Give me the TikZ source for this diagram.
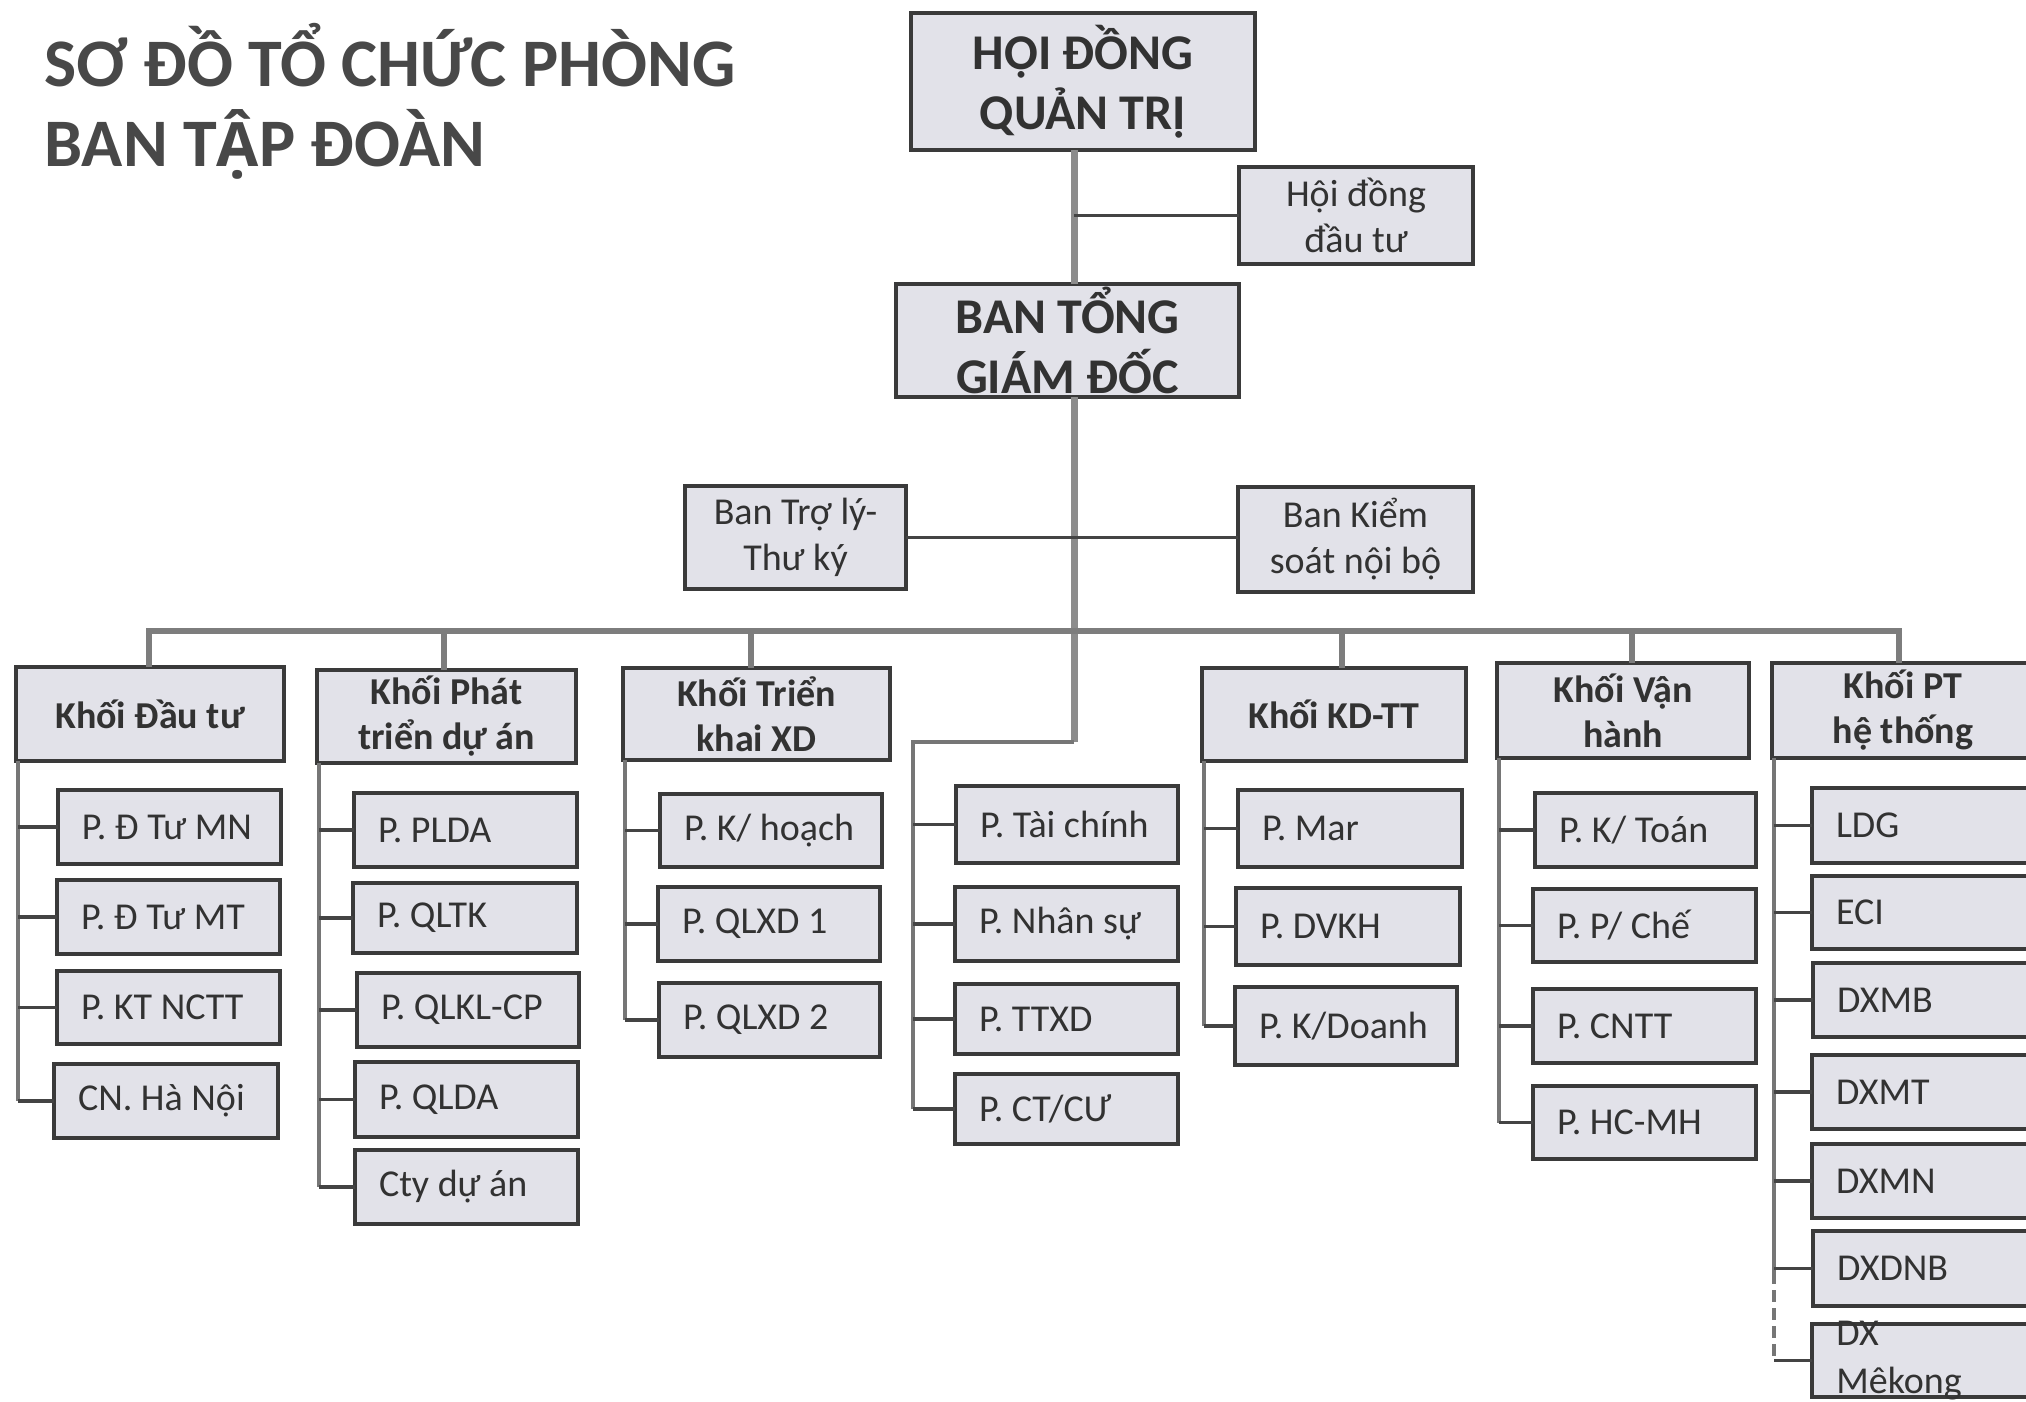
\documentclass[tikz,border=0pt]{standalone}
\usepackage{fontspec}
\setmainfont{Carlito}
\newfontfamily\altfont[Scale=0.9]{Open Sans}
\definecolor{boxfill}{RGB}{226,226,233}
\definecolor{boxline}{RGB}{58,58,58}
\definecolor{trunkc}{RGB}{140,140,140}
\definecolor{busc}{RGB}{125,125,125}
\definecolor{vlinec}{RGB}{118,118,118}
\definecolor{stubc}{RGB}{68,68,68}
\definecolor{txtc}{RGB}{50,50,50}
\definecolor{titlec}{RGB}{72,72,72}
\newcommand\bx[7]{% style,name,x1,y1,x2,y2,text
  \pgfmathsetmacro\bxw{(#5-#3)*0.5}%
  \pgfmathsetmacro\bxh{(#6-#4)*0.5}%
  \node[#1, minimum width=\bxw pt, minimum height=\bxh pt] (#2) at ({(#3+#5)/2},{(#4+#6)/2}) {#7};}
\newcommand\cx[6]{% name,x1,y1,x2,y2,text
  \pgfmathsetmacro\bxw{(#4-#2)*0.5-24}%
  \pgfmathsetmacro\bxh{(#5-#3)*0.5}%
  \node[cbox, minimum height=\bxh pt] (#1) at ({(#2+#4)/2},{(#3+#5)/2}) {\makebox[\bxw pt][l]{#6}};}
\begin{document}
\begin{tikzpicture}[x=0.5pt,y=-0.5pt,
  box/.style={draw=boxline, line width=2pt, fill=boxfill, inner sep=0pt, outer sep=0pt,
    text=txtc, font=\fontsize{19pt}{23pt}\selectfont, align=center},
  topbox/.style={box, font=\bfseries\fontsize{25pt}{30pt}\selectfont},
  hdrbox/.style={box, font=\bfseries\fontsize{19pt}{22.5pt}\selectfont},
  cbox/.style={draw=boxline, line width=2pt, fill=boxfill, inner ysep=0pt, inner xsep=12pt,
    outer sep=0pt, text=txtc, font=\fontsize{19pt}{23pt}\selectfont},
  trunkline/.style={draw=trunkc, line width=3.5pt},
  busline/.style={draw=busc, line width=2.6pt},
  vline/.style={draw=vlinec, line width=2pt},
  stubline/.style={draw=stubc, line width=1.8pt},
  titlefont/.style={font=\bfseries\fontsize{34pt}{40pt}\selectfont, text=titlec, inner sep=0pt, anchor=base west},
]
\useasboundingbox (0,0) rectangle (2026,1402);
\clip (0,0) rectangle (2026,1402);
\fill[white] (0,0) rectangle (2026,1402);

% title
\node[titlefont] (t1) at (44,87) {SƠ ĐỒ TỔ CHỨC PHÒNG};
\node[titlefont] (t2) at (44,167) {BAN T{\altfont Ậ}P ĐOÀN};

% coordinates for connectors
\coordinate (tx) at (1074,0);
\coordinate (tk) at (1074,742);
\coordinate (fk) at (913,742);
\coordinate (busL) at (149,631);
\coordinate (busR) at (1899,631);
\coordinate (dk2) at (444,631);
\coordinate (dk3) at (751,631);
\coordinate (dk5) at (1342,631);
\coordinate (dk6) at (1632,631);
\coordinate (v1) at (18,0);
\coordinate (v2) at (319,0);
\coordinate (v3) at (625,0);
\coordinate (v5) at (1204,0);
\coordinate (v6) at (1499,0);
\coordinate (v7) at (1774,0);
\coordinate (v7d) at (1774,1272);

% top boxes
\bx{topbox}{hdqt}{911}{13}{1255}{150}{HỘI ĐỒNG\\QUẢN TRỊ}
\bx{box}{hddt}{1239}{167}{1473}{264}{Hội đồng\\đầu tư}
\bx{topbox}{btgd}{896}{284}{1239}{397}{BAN TỔNG\\GIÁM ĐỐC}
\bx{box}{btl}{685}{486}{906}{589}{Ban Trợ lý-\\Thư ký}
\bx{box}{bks}{1238}{487}{1473}{592}{Ban Kiểm\\soát nội bộ}

% headers
\bx{hdrbox}{k1}{16}{667}{284}{761}{Khối Đầu tư}
\bx{hdrbox}{k2}{317}{670}{576}{763}{Khối Phát\\triển dự án}
\bx{hdrbox}{k3}{623}{668}{890}{760}{Khối Triển\\khai XD}
\bx{hdrbox}{k5}{1202}{668}{1466}{761}{Khối KD-TT}
\bx{hdrbox}{k6}{1497}{663}{1749}{758}{Khối Vận\\hành}
\bx{hdrbox}{k7}{1772}{663}{2034}{758}{Khối PT\\hệ thống}

% children
\cx{a1}{58}{790}{281}{864}{P. Đ Tư MN}
\cx{a2}{57}{880}{280}{954}{P. Đ Tư MT}
\cx{a3}{57}{971}{280}{1044}{P. KT NCTT}
\cx{a4}{54}{1064}{278}{1138}{CN. Hà Nội}

\cx{b1}{354}{793}{577}{867}{P. PLDA}
\cx{b2}{353}{883}{577}{953}{P. QLTK}
\cx{b3}{357}{973}{579}{1047}{P. QLKL-CP}
\cx{b4}{355}{1062}{578}{1137}{P. QLDA}
\cx{b5}{355}{1150}{578}{1224}{Cty dự án}

\cx{c1}{660}{794}{882}{867}{P. K/ hoạch}
\cx{c2}{658}{887}{880}{961}{P. QLXD 1}
\cx{c3}{659}{983}{880}{1057}{P. QLXD 2}

\cx{d1}{956}{786}{1178}{863}{P. Tài chính}
\cx{d2}{955}{887}{1178}{961}{P. Nhân sự}
\cx{d3}{955}{984}{1178}{1054}{P. TTXD}
\cx{d4}{955}{1074}{1178}{1144}{P. CT/CƯ}

\cx{e1}{1238}{790}{1462}{867}{P. Mar}
\cx{e2}{1236}{888}{1460}{965}{P. DVKH}
\cx{e3}{1235}{987}{1457}{1065}{P. K/Doanh}

\cx{f1}{1535}{793}{1756}{867}{P. K/ Toán}
\cx{f2}{1533}{889}{1756}{962}{P. P/ Chế}
\cx{f3}{1533}{989}{1756}{1063}{P. CNTT}
\cx{f4}{1533}{1086}{1756}{1159}{P. HC-MH}

\cx{g1}{1812}{788}{2040}{863}{LDG}
\cx{g2}{1812}{876}{2040}{949}{ECI}
\cx{g3}{1813}{963}{2040}{1037}{DXMB}
\cx{g4}{1812}{1055}{2040}{1129}{DXMT}
\cx{g5}{1812}{1144}{2040}{1218}{DXMN}
\cx{g6}{1813}{1231}{2040}{1306}{DXDNB}
\cx{g7}{1812}{1324}{2040}{1397}{}
\node[anchor=west, align=left, inner sep=0pt, text=txtc, font=\fontsize{19pt}{24pt}\selectfont] (g7t) at ([xshift=12pt]g7.west) {DX\\Mêkong};

% connectors
\draw[trunkline] (hdqt.south -| tx) -- (btgd.north -| tx);
\draw[stubline] (hddt.west) -- (hddt.west -| tx);
\draw[trunkline] (btgd.south -| tx) -- (tk);
\draw[stubline] (btl.east) -- (btl.east -| bks.west);
\draw[busline] (busL |- k1.north) -- (busL) -- (busR) -- (busR |- k7.north);
\draw[busline] (dk2) -- (dk2 |- k2.north);
\draw[busline] (dk3) -- (dk3 |- k3.north);
\draw[busline] (dk5) -- (dk5 |- k5.north);
\draw[busline] (dk6) -- (dk6 |- k6.north);
\draw[vline] (tk) -- (fk) -- (fk |- d4.west);

\draw[vline] (v1 |- k1.south) -- (v1 |- a4.west);
\draw[vline] (v2 |- k2.south) -- (v2 |- b5.west);
\draw[vline] (v3 |- k3.south) -- (v3 |- c3.west);
\draw[vline] (v5 |- k5.south) -- (v5 |- e3.west);
\draw[vline] (v6 |- k6.south) -- (v6 |- f4.west);
\draw[vline] (v7 |- k7.south) -- (v7d);
\draw[vline, dash pattern=on 6pt off 3pt] (v7d) -- (v7 |- g7.west);

\foreach \c in {a1,a2,a3,a4} \draw[stubline] (\c.west) -- (\c.west -| v1);
\foreach \c in {b1,b2,b3,b4,b5} \draw[stubline] (\c.west) -- (\c.west -| v2);
\foreach \c in {c1,c2,c3} \draw[stubline] (\c.west) -- (\c.west -| v3);
\foreach \c in {d1,d2,d3,d4} \draw[stubline] (\c.west) -- (\c.west -| fk);
\foreach \c in {e1,e2,e3} \draw[stubline] (\c.west) -- (\c.west -| v5);
\foreach \c in {f1,f2,f3,f4} \draw[stubline] (\c.west) -- (\c.west -| v6);
\foreach \c in {g1,g2,g3,g4,g5,g6,g7} \draw[stubline] (\c.west) -- (\c.west -| v7);
\end{tikzpicture}
\end{document}
